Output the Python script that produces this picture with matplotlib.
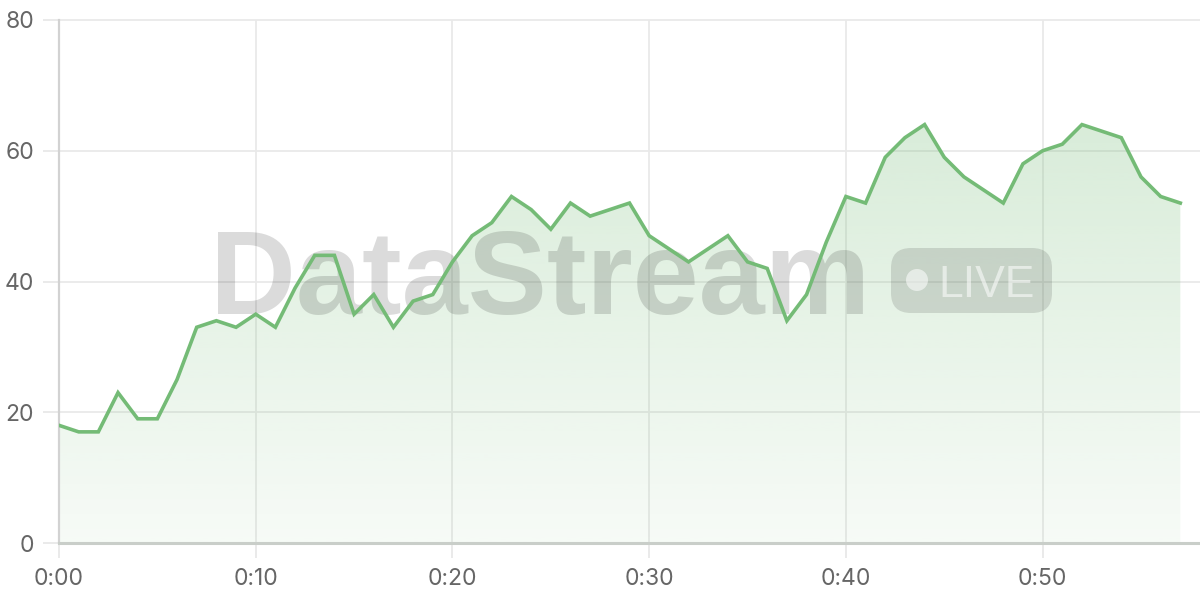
import numpy as np
import matplotlib
matplotlib.use("Agg")
import matplotlib.pyplot as plt
from matplotlib.patches import Polygon, FancyBboxPatch, Circle
from matplotlib.colors import to_rgb

# ---- data ----
minutes = list(range(58))
values = [18, 17, 17, 23, 19, 19, 25, 33, 34, 33,
          35, 33, 39, 44, 44, 35, 38, 33, 37, 38,
          43, 47, 49, 53, 51, 48, 52, 50, 51, 52,
          47, 45, 43, 45, 47, 43, 42, 34, 38, 46,
          53, 52, 59, 62, 64, 59, 56, 54, 52, 58,
          60, 61, 64, 63, 62, 56, 53, 52]
x_ticks = [0, 10, 20, 30, 40, 50]
x_tick_labels = ["0:00", "0:10", "0:20", "0:30", "0:40", "0:50"]
y_ticks = [0, 20, 40, 60, 80]
watermark = "DataStream"
badge_text = "LIVE"

LINE = "#74bb76"
TICKC = "#e6e6e6"
LABELC = "#666666"

plt.rcParams['font.family'] = ['Liberation Sans', 'DejaVu Sans']

fig = plt.figure(figsize=(12, 6), dpi=100)
ax = fig.add_axes([59 / 1200, 57 / 600, 1141 / 1200, 523 / 600])

# gradient fill under line
verts = [(minutes[0], 0)] + list(zip(minutes, values)) + [(minutes[-1], 0)]
poly = Polygon(verts, closed=True, facecolor='none', edgecolor='none')
ax.add_patch(poly)
n = 256
alphas = np.linspace(0.06, 0.33, n)
rgb = to_rgb(LINE)
img = np.zeros((n, 1, 4))
img[:, 0, 0], img[:, 0, 1], img[:, 0, 2] = rgb
img[:, 0, 3] = alphas
im = ax.imshow(img, extent=[minutes[0], minutes[-1], 0, 80], origin='lower',
               aspect='auto', zorder=1, interpolation='bilinear')
im.set_clip_path(poly)

# line
ax.plot(minutes, values, color=LINE, lw=2.6, zorder=4, solid_joinstyle='miter')

# watermark (inside axes, between fill and line)
T = fig.dpi_scale_trans
ax.text(2.10, (600 - 314) / 100, watermark, transform=T, fontsize=85.5,
        fontweight='bold', color='black', alpha=0.14, ha='left', va='baseline',
        zorder=2, clip_on=False, family=['Liberation Sans', 'DejaVu Sans'])
badge = FancyBboxPatch((8.91, 2.87), 1.61, 0.65,
                       boxstyle="round,pad=0,rounding_size=0.2",
                       transform=T, facecolor='black', alpha=0.12,
                       edgecolor='none', zorder=2, clip_on=False)
ax.add_artist(badge)
dot = Circle((9.17, 3.20), 0.11, transform=T, facecolor='white', alpha=0.55,
             edgecolor='none', zorder=2.5, clip_on=False)
ax.add_artist(dot)
ax.text(9.38, (600 - 297) / 100, badge_text, transform=T, fontsize=32,
        color='white', alpha=0.55, ha='left', va='baseline', zorder=2.5,
        clip_on=False, fontweight='medium')

# axes styling
ax.set_xlim(0, 58)
ax.set_ylim(0, 80)
ax.set_xticks(x_ticks)
ax.set_xticklabels(x_tick_labels)
ax.set_yticks(y_ticks)
ax.grid(True, color='#e9e9e9', lw=1.3, zorder=0)
ax.set_axisbelow(True)
for s in ['top', 'right']:
    ax.spines[s].set_visible(False)
ax.spines['left'].set_color('#d2d2d2')
ax.spines['left'].set_linewidth(1.6)
ax.spines['bottom'].set_color('#c9cec9')
ax.spines['bottom'].set_linewidth(2.2)
ax.tick_params(axis='y', length=11.5, width=1.2, color=TICKC, pad=6.5,
               labelsize=16.5, labelcolor=LABELC)
ax.tick_params(axis='x', length=10.8, width=1.2, color=TICKC, pad=7.5,
               labelsize=16.5, labelcolor=LABELC)
for lab in ax.get_xticklabels() + ax.get_yticklabels():
    lab.set_family(['Inter', 'DejaVu Sans'])
for gl in ax.get_ygridlines():
    gl.set_clip_on(False)

fig.savefig("out.png", dpi=100)
